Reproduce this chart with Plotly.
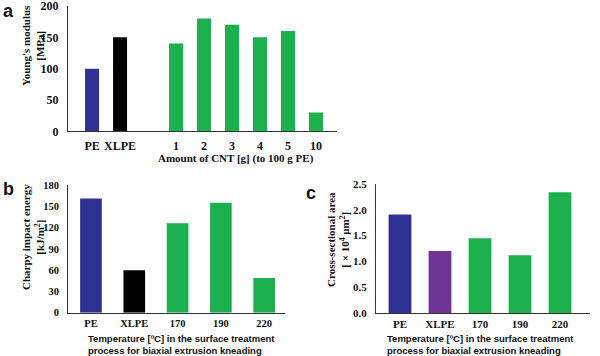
import plotly.graph_objects as go

# ---- data ----
a_cats = ["PE", "XLPE", "1", "2", "3", "4", "5", "10"]
a_vals = [100, 150, 140, 180, 170, 150, 160, 30]
a_colors = ["#2E3192", "#000000"] + ["#1DB04F"] * 6

b_cats = ["PE", "XLPE", "170", "190", "220"]
b_vals = [161, 60, 126, 155, 49]
b_colors = ["#2E3192", "#000000", "#1DB04F", "#1DB04F", "#1DB04F"]

c_cats = ["PE", "XLPE", "170", "190", "220"]
c_vals = [1.91, 1.20, 1.45, 1.12, 2.34]
c_colors = ["#2E3192", "#6E3596", "#1DB04F", "#1DB04F", "#1DB04F"]

a_yticks = [0, 50, 100, 150, 200]
b_yticks = [0, 30, 60, 90, 120, 150, 180]
c_yticks = [0.0, 0.5, 1.0, 1.5, 2.0, 2.5]

W, H = 600, 356
SERIF = "Liberation Serif, Times New Roman, serif"
SANS = "Liberation Sans, Arial, sans-serif"

# panel a uses a gap slot between XLPE and the CNT series
a_x = [0, 1] + [i + 3 for i in range(6)]

fig = go.Figure()
fig.add_trace(go.Bar(x=a_x, y=a_vals, marker=dict(color=a_colors, line=dict(width=0)),
                     width=0.5, xaxis="x", yaxis="y", showlegend=False))
fig.add_trace(go.Bar(x=b_cats, y=b_vals, marker=dict(color=b_colors, line=dict(width=0)),
                     width=0.5, xaxis="x2", yaxis="y2", showlegend=False))
fig.add_trace(go.Bar(x=c_cats, y=c_vals, marker=dict(color=c_colors, line=dict(width=0)),
                     width=0.57, xaxis="x3", yaxis="y3", showlegend=False))

def px(x):
    return x / W

def py(y):
    return 1 - y / H

def tf(size):
    return dict(family=SERIF, size=size, color="#111111", weight="bold")

axline = dict(showline=True, linecolor="#333333", linewidth=1, showgrid=False,
              zeroline=False, ticks="", automargin=False, ticklabeloverflow="allow")

fig.update_layout(
    width=W, height=H, margin=dict(l=0, r=0, t=0, b=0, autoexpand=False),
    paper_bgcolor="white", plot_bgcolor="white",
    xaxis=dict(domain=[px(68), px(337)], anchor="y", range=[-0.86, 8.75],
               tickvals=a_x, ticktext=a_cats, ticklabelstandoff=3, tickfont=tf(12), **axline),
    yaxis=dict(domain=[py(131.3), py(6)], anchor="x", range=[0, 200],
               tickvals=a_yticks, ticklabelstandoff=6, tickfont=tf(12), **axline),
    xaxis2=dict(domain=[px(68), px(285)], anchor="y2", range=[-0.53, 4.48],
                ticklabelstandoff=1, tickfont=tf(10.5), **axline),
    yaxis2=dict(domain=[py(312.7), py(185)], anchor="x2", range=[0, 180],
                tickvals=b_yticks, ticklabelstandoff=6, tickfont=tf(10.5), **axline),
    xaxis3=dict(domain=[px(376), px(590)], anchor="y3", range=[-0.6, 4.75],
                ticklabelstandoff=1, tickfont=tf(11), **axline),
    yaxis3=dict(domain=[py(313), py(184)], anchor="x3", range=[0, 2.5],
                tickvals=c_yticks, tickformat=".1f", ticklabelstandoff=6, tickfont=tf(11), **axline),
)

def ann(text, x, y, size, family, angle=0, xanchor="center", yanchor="middle", align="center"):
    fig.add_annotation(text=text, x=px(x), y=py(y), xref="paper", yref="paper",
                       showarrow=False, textangle=angle, xanchor=xanchor, yanchor=yanchor,
                       align=align, font=dict(family=family, size=size, color="#111111", weight="bold"))

# panel letters
ann("a", 1, 11, 18, SANS, xanchor="left")
ann("b", 1, 189, 18, SANS, xanchor="left")
ann("c", 304, 193, 18, SANS, xanchor="left")

# y titles (two lines each)
ann("Young's modulus<br>[MPa]", 33, 46, 11, SERIF, angle=-90)
ann("Charpy impact energy<br>[kJ/m<sup>2</sup>]", 33, 237, 11, SERIF, angle=-90)
ann("Cross-sectional area<br>[ × 10<sup>4</sup> μm<sup>2</sup>]", 338, 240, 11, SERIF, angle=-90)

# x titles
ann("Amount of CNT [g] (to 100 g PE)", 236, 158, 11, SERIF)
ann("Temperature [ºC] in the surface treatment<br>process for biaxial extrusion kneading",
    86, 331, 9.5, SANS, xanchor="left", yanchor="top", align="left")
ann("Temperature [ºC] in the surface treatment<br>process for biaxial extrusion kneading",
    385, 331, 9.5, SANS, xanchor="left", yanchor="top", align="left")

fig.write_html("out.html", config={"displayModeBar": False},
               post_script="document.body.style.margin='0';document.body.style.overflow='hidden';")
